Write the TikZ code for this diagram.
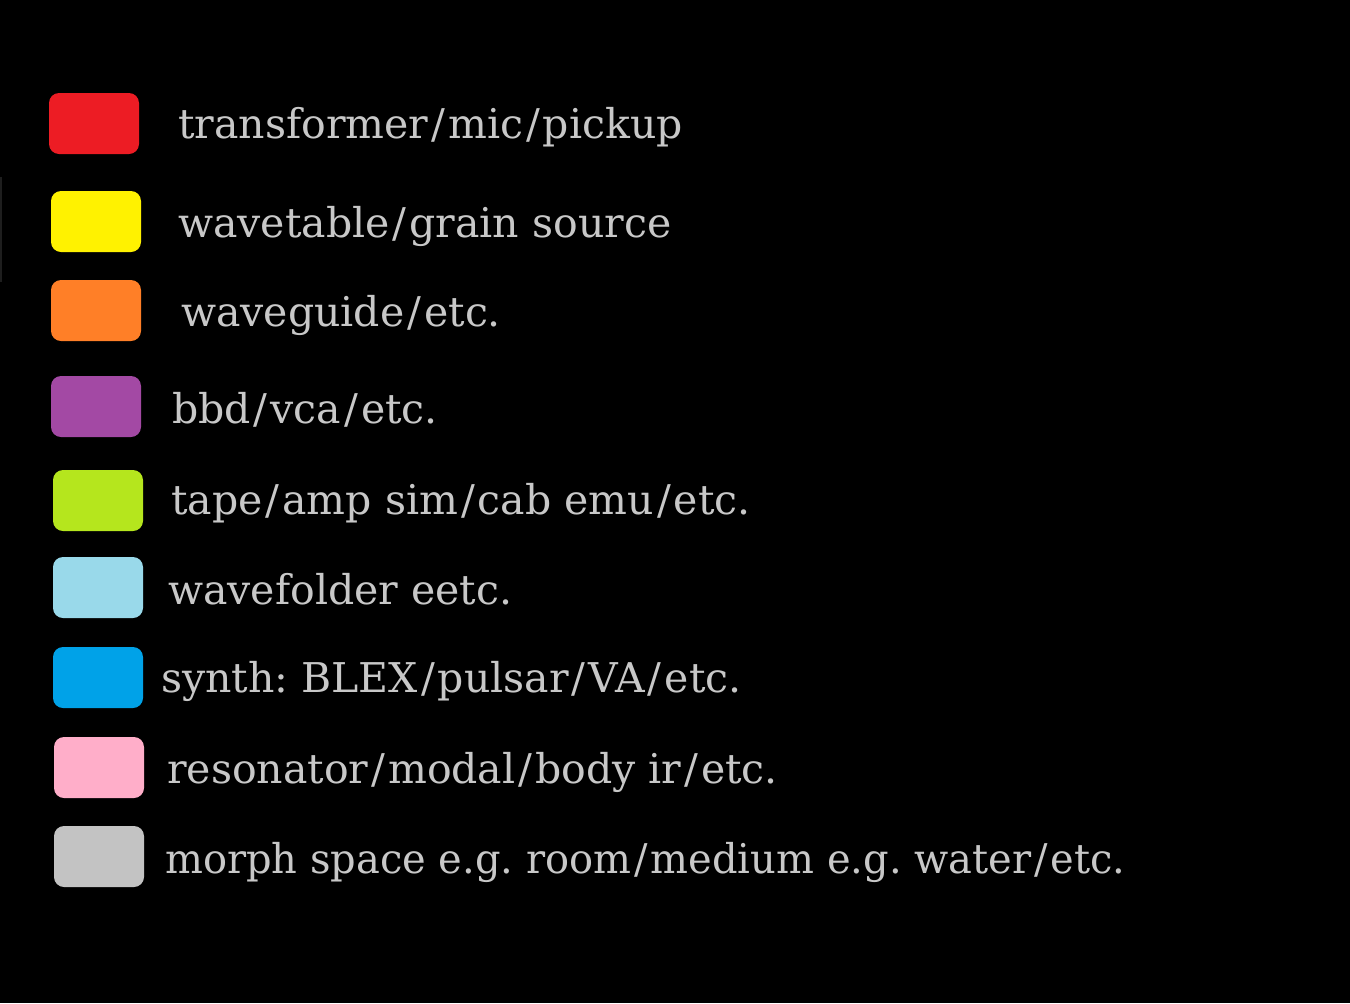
\documentclass[tikz,border=0pt]{standalone}
\usepackage{fontspec}
\setmainfont{DejaVu Serif}
\frenchspacing

% Paint-style palette for the legend swatches
\definecolor{swred}{HTML}{ED1C24}
\definecolor{swyellow}{HTML}{FFF200}
\definecolor{sworange}{HTML}{FF7F27}
\definecolor{swpurple}{HTML}{A349A4}
\definecolor{swlime}{HTML}{B5E61D}
\definecolor{swsky}{HTML}{99D9EA}
\definecolor{swblue}{HTML}{00A2E8}
\definecolor{swpink}{HTML}{FFAEC9}
\definecolor{swgray}{HTML}{C3C3C3}
\definecolor{labelgray}{HTML}{C8C8C8}
\definecolor{edgegray}{HTML}{1E1E1E}

% slash with a little air on both sides
\newcommand\slsh{\kern3bp/\kern3bp}

\tikzset{
  swatch/.style={fill=#1, draw=none, rounded corners=10bp},
  legendtext/.style={anchor=base west, inner sep=0pt, text=labelgray,
    font=\fontsize{41bp}{41bp}\selectfont}
}

\begin{document}
\begin{tikzpicture}[x=1bp,y=-1bp]
  % canvas
  \fill[black] (0,0) rectangle (1350,1003);
  \useasboundingbox (0,0) rectangle (1350,1003);

  % faint edge mark at the left border
  \draw[edgegray, line width=2bp] (1,177) -- (1,282);

  % swatches
  \fill[swatch=swred]    (49,93)  rectangle (139,154);
  \fill[swatch=swyellow] (51,191) rectangle (141,252);
  \fill[swatch=sworange] (51,280) rectangle (141,341);
  \fill[swatch=swpurple] (51,376) rectangle (141,437);
  \fill[swatch=swlime]   (53,470) rectangle (143,531);
  \fill[swatch=swsky]    (53,557) rectangle (143,618);
  \fill[swatch=swblue]   (53,647) rectangle (143,708);
  \fill[swatch=swpink]   (54,737) rectangle (144,798);
  \fill[swatch=swgray]   (54,826) rectangle (144,887);

  % labels
  \node[legendtext] (l1) at (178,138) {transformer\slsh mic\slsh pickup};
  \node[legendtext] (l2) at (178,237) {wavetable\slsh grain source};
  \node[legendtext] (l3) at (181,326) {waveguide\slsh etc.};
  \node[legendtext] (l4) at (172,423) {bbd\slsh vca\slsh etc.};
  \node[legendtext] (l5) at (171,514) {tape\slsh amp sim\slsh cab emu\slsh etc.};
  \node[legendtext] (l6) at (168,604) {wavefolder eetc.};
  \node[legendtext] (l7) at (161,692) {synth: BLEX\slsh pulsar\slsh VA\slsh etc.};
  \node[legendtext] (l8) at (167,783) {resonator\slsh modal\slsh body ir\slsh etc.};
  \node[legendtext] (l9) at (165,873) {\scalebox{0.975}[1]{morph space e.g. room\slsh medium e.g. water\slsh etc.}};
\end{tikzpicture}
\end{document}
